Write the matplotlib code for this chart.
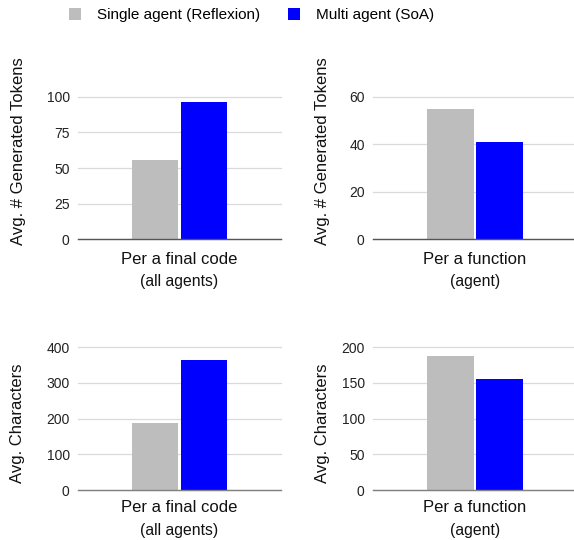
import matplotlib
matplotlib.use("Agg")
import matplotlib.pyplot as plt

plt.rcParams['font.family'] = ['Liberation Sans', 'DejaVu Sans']

series = ["Single agent (Reflexion)", "Multi agent (SoA)"]
colors = ["#bdbdbd", "#0000ff"]

panel_ylabels = ["Avg. # Generated Tokens", "Avg. # Generated Tokens",
                 "Avg. Characters", "Avg. Characters"]
panel_cat_main = ["Per a final code", "Per a function",
                  "Per a final code", "Per a function"]
panel_cat_sub = ["(all agents)", "(agent)", "(all agents)", "(agent)"]
single_vals = [55.8, 54.7, 188, 188]
multi_vals = [96.1, 40.8, 365, 155]
panel_ticks = [[0, 25, 50, 75, 100], [0, 20, 40, 60],
               [0, 100, 200, 300, 400], [0, 50, 100, 150, 200]]

W, H = 574, 540
fig = plt.figure(figsize=(W / 100, H / 100), dpi=100)

# pixel geometry: (left, right, top, bottom)
boxes = [(78, 281, 96.7, 239.3), (373, 577, 96.7, 239.3),
         (78, 281, 347.3, 490), (373, 577, 347.3, 490)]
ylabel_pos = [(19, 151), (323, 151), (18, 423), (323, 423)]
xlab_off = [(20.5, 42.5), (20.5, 42.5), (17, 41), (17, 41)]

bw = 0.23
off = 0.12
handles = []
for i in range(4):
    l, r, t, b = boxes[i]
    ax = fig.add_axes([l / W, 1 - b / H, (r - l) / W, (b - t) / H])
    h1 = ax.bar(-off, single_vals[i], width=bw, color=colors[0], label=series[0], zorder=3)
    h2 = ax.bar(off, multi_vals[i], width=bw, color=colors[1], label=series[1], zorder=3)
    if i == 0:
        handles = [h1, h2]
    ax.set_xlim(-0.5, 0.5)
    ticks = panel_ticks[i]
    ax.set_ylim(0, ticks[-1])
    ax.set_yticks(ticks)
    ax.set_yticklabels([str(v) for v in ticks], fontsize=10, color="#222222")
    ax.set_xticks([])
    ax.tick_params(axis='y', length=0, pad=6)
    for s in ['top', 'right', 'left']:
        ax.spines[s].set_visible(False)
    ax.spines['bottom'].set_color('#555555' if i < 2 else '#808080')
    ax.spines['bottom'].set_linewidth(1.0)
    ax.spines['bottom'].set_zorder(4)
    ax.grid(axis='y', color='#dadada', linewidth=0.9, zorder=0)
    ax.set_axisbelow(True)
    for gl in ax.get_ygridlines():
        gl.set_clip_on(False)
    o1, o2 = xlab_off[i]
    ax.annotate(panel_cat_main[i], xy=(0.5, 0), xycoords='axes fraction',
                xytext=(0, -o1), textcoords='offset pixels',
                ha='center', va='center', fontsize=12, color='#111111')
    ax.annotate(panel_cat_sub[i], xy=(0.5, 0), xycoords='axes fraction',
                xytext=(0, -o2), textcoords='offset pixels',
                ha='center', va='center', fontsize=11.3, color='#111111')
    x, y = ylabel_pos[i]
    fig.text(x / W, 1 - y / H, panel_ylabels[i], rotation=90,
             ha='center', va='center', fontsize=12, color='#111111')

fig.legend(handles=handles, labels=series, loc='center left',
           bbox_to_anchor=(69 / W, 1 - 15 / H), ncol=2, frameon=False,
           fontsize=11, handlelength=0.8, handleheight=0.8,
           handletextpad=1.05, columnspacing=1.8, borderpad=0,
           borderaxespad=0)

fig.savefig("out.png", dpi=100)
